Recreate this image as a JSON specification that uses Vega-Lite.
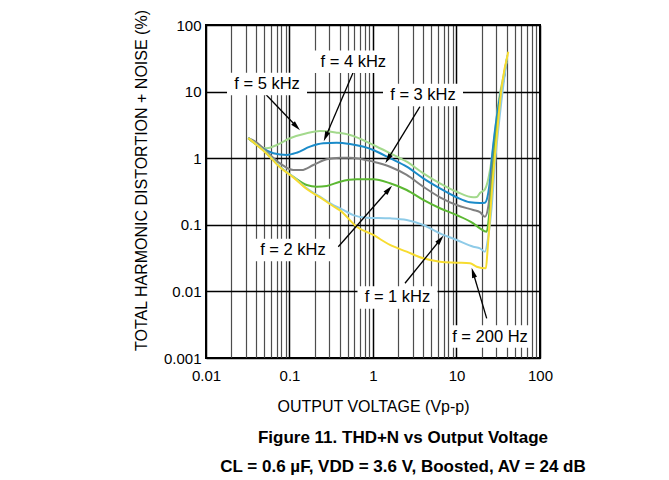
{
  "$schema": "https://vega.github.io/schema/vega-lite/v6.json",
  "width": 334,
  "height": 333,
  "autosize": {"type": "none"},
  "padding": {"left": 206, "top": 25, "right": 129, "bottom": 122},
  "background": "white",
  "config": {
    "font": "Liberation Sans",
    "view": {"stroke": "black", "strokeWidth": 2}
  },
  "title": {
    "text": "Figure 11. THD+N vs Output Voltage",
    "subtitle": "CL = 0.6 µF, VDD = 3.6 V, Boosted, AV = 24 dB",
    "orient": "bottom",
    "anchor": "middle",
    "frame": "group",
    "dx": 30,
    "offset": 16,
    "fontSize": 17,
    "fontWeight": "bold",
    "color": "black",
    "subtitleFontSize": 17,
    "subtitleFontWeight": "bold",
    "subtitleColor": "black",
    "subtitlePadding": 12
  },
  "datasets": {
    "curves": [
      {"f": "5 kHz", "v": 0.0321, "thd": 2.0},
      {"f": "5 kHz", "v": 0.0443, "thd": 1.49},
      {"f": "5 kHz", "v": 0.0533, "thd": 1.41},
      {"f": "5 kHz", "v": 0.0703, "thd": 1.58},
      {"f": "5 kHz", "v": 0.1014, "thd": 1.99},
      {"f": "5 kHz", "v": 0.1607, "thd": 2.37},
      {"f": "5 kHz", "v": 0.232, "thd": 2.56},
      {"f": "5 kHz", "v": 0.367, "thd": 2.42},
      {"f": "5 kHz", "v": 0.53, "thd": 2.23},
      {"f": "5 kHz", "v": 1.008, "thd": 1.58},
      {"f": "5 kHz", "v": 1.598, "thd": 1.19},
      {"f": "5 kHz", "v": 2.533, "thd": 0.886},
      {"f": "5 kHz", "v": 4.004, "thd": 0.593},
      {"f": "5 kHz", "v": 6.34, "thd": 0.42},
      {"f": "5 kHz", "v": 10.06, "thd": 0.314},
      {"f": "5 kHz", "v": 15.9, "thd": 0.259},
      {"f": "5 kHz", "v": 17.5, "thd": 0.262},
      {"f": "5 kHz", "v": 19.1, "thd": 0.3},
      {"f": "5 kHz", "v": 21.9, "thd": 0.34},
      {"f": "5 kHz", "v": 25.2, "thd": 0.665},
      {"f": "5 kHz", "v": 27.6, "thd": 1.49},
      {"f": "5 kHz", "v": 31.7, "thd": 6.67},
      {"f": "5 kHz", "v": 36.4, "thd": 16.7},
      {"f": "5 kHz", "v": 39.9, "thd": 28.1},

      {"f": "4 kHz", "v": 0.0321, "thd": 2.0},
      {"f": "4 kHz", "v": 0.0443, "thd": 1.49},
      {"f": "4 kHz", "v": 0.064, "thd": 1.19},
      {"f": "4 kHz", "v": 0.0926, "thd": 1.12},
      {"f": "4 kHz", "v": 0.122, "thd": 1.21},
      {"f": "4 kHz", "v": 0.176, "thd": 1.49},
      {"f": "4 kHz", "v": 0.254, "thd": 1.675},
      {"f": "4 kHz", "v": 0.367, "thd": 1.71},
      {"f": "4 kHz", "v": 0.53, "thd": 1.63},
      {"f": "4 kHz", "v": 1.008, "thd": 1.33},
      {"f": "4 kHz", "v": 1.598, "thd": 1.0},
      {"f": "4 kHz", "v": 2.533, "thd": 0.745},
      {"f": "4 kHz", "v": 4.004, "thd": 0.499},
      {"f": "4 kHz", "v": 6.34, "thd": 0.353},
      {"f": "4 kHz", "v": 10.06, "thd": 0.259},
      {"f": "4 kHz", "v": 14.5, "thd": 0.218},
      {"f": "4 kHz", "v": 19.1, "thd": 0.212},
      {"f": "4 kHz", "v": 21.9, "thd": 0.215},
      {"f": "4 kHz", "v": 24.0, "thd": 0.3},
      {"f": "4 kHz", "v": 25.2, "thd": 0.471},
      {"f": "4 kHz", "v": 26.4, "thd": 0.94},
      {"f": "4 kHz", "v": 28.9, "thd": 2.65},
      {"f": "4 kHz", "v": 33.2, "thd": 8.38},
      {"f": "4 kHz", "v": 38.1, "thd": 18.8},

      {"f": "3 kHz", "v": 0.0321, "thd": 2.0},
      {"f": "3 kHz", "v": 0.0405, "thd": 1.72},
      {"f": "3 kHz", "v": 0.0533, "thd": 1.25},
      {"f": "3 kHz", "v": 0.0769, "thd": 0.838},
      {"f": "3 kHz", "v": 0.111, "thd": 0.665},
      {"f": "3 kHz", "v": 0.14, "thd": 0.665},
      {"f": "3 kHz", "v": 0.193, "thd": 0.79},
      {"f": "3 kHz", "v": 0.279, "thd": 0.963},
      {"f": "3 kHz", "v": 0.403, "thd": 1.02},
      {"f": "3 kHz", "v": 0.53, "thd": 1.02},
      {"f": "3 kHz", "v": 1.008, "thd": 0.886},
      {"f": "3 kHz", "v": 1.598, "thd": 0.745},
      {"f": "3 kHz", "v": 2.533, "thd": 0.56},
      {"f": "3 kHz", "v": 4.004, "thd": 0.373},
      {"f": "3 kHz", "v": 6.34, "thd": 0.259},
      {"f": "3 kHz", "v": 10.06, "thd": 0.198},
      {"f": "3 kHz", "v": 15.9, "thd": 0.167},
      {"f": "3 kHz", "v": 19.1, "thd": 0.155},
      {"f": "3 kHz", "v": 21.9, "thd": 0.132},
      {"f": "3 kHz", "v": 24.0, "thd": 0.187},
      {"f": "3 kHz", "v": 26.4, "thd": 0.593},
      {"f": "3 kHz", "v": 28.9, "thd": 1.675},
      {"f": "3 kHz", "v": 33.2, "thd": 6.67},
      {"f": "3 kHz", "v": 38.8, "thd": 23.7},

      {"f": "2 kHz", "v": 0.0321, "thd": 2.0},
      {"f": "2 kHz", "v": 0.0533, "thd": 1.19},
      {"f": "2 kHz", "v": 0.0769, "thd": 0.745},
      {"f": "2 kHz", "v": 0.111, "thd": 0.527},
      {"f": "2 kHz", "v": 0.1607, "thd": 0.396},
      {"f": "2 kHz", "v": 0.212, "thd": 0.373},
      {"f": "2 kHz", "v": 0.279, "thd": 0.383},
      {"f": "2 kHz", "v": 0.403, "thd": 0.444},
      {"f": "2 kHz", "v": 0.638, "thd": 0.482},
      {"f": "2 kHz", "v": 1.008, "thd": 0.482},
      {"f": "2 kHz", "v": 1.598, "thd": 0.42},
      {"f": "2 kHz", "v": 2.533, "thd": 0.333},
      {"f": "2 kHz", "v": 4.004, "thd": 0.236},
      {"f": "2 kHz", "v": 6.34, "thd": 0.177},
      {"f": "2 kHz", "v": 10.06, "thd": 0.14},
      {"f": "2 kHz", "v": 15.9, "thd": 0.105},
      {"f": "2 kHz", "v": 19.1, "thd": 0.0886},
      {"f": "2 kHz", "v": 23.0, "thd": 0.0788},
      {"f": "2 kHz", "v": 24.7, "thd": 0.149},
      {"f": "2 kHz", "v": 26.4, "thd": 0.373},
      {"f": "2 kHz", "v": 28.9, "thd": 1.49},
      {"f": "2 kHz", "v": 33.2, "thd": 6.67},
      {"f": "2 kHz", "v": 39.9, "thd": 30.5},

      {"f": "1 kHz", "v": 0.0321, "thd": 2.0},
      {"f": "1 kHz", "v": 0.0533, "thd": 1.19},
      {"f": "1 kHz", "v": 0.0769, "thd": 0.745},
      {"f": "1 kHz", "v": 0.111, "thd": 0.527},
      {"f": "1 kHz", "v": 0.1607, "thd": 0.353},
      {"f": "1 kHz", "v": 0.232, "thd": 0.264},
      {"f": "1 kHz", "v": 0.3346, "thd": 0.198},
      {"f": "1 kHz", "v": 0.403, "thd": 0.177},
      {"f": "1 kHz", "v": 0.484, "thd": 0.157},
      {"f": "1 kHz", "v": 0.581, "thd": 0.14},
      {"f": "1 kHz", "v": 0.841, "thd": 0.128},
      {"f": "1 kHz", "v": 1.598, "thd": 0.125},
      {"f": "1 kHz", "v": 2.533, "thd": 0.118},
      {"f": "1 kHz", "v": 4.004, "thd": 0.0993},
      {"f": "1 kHz", "v": 6.34, "thd": 0.0745},
      {"f": "1 kHz", "v": 10.06, "thd": 0.0591},
      {"f": "1 kHz", "v": 15.9, "thd": 0.0469},
      {"f": "1 kHz", "v": 19.1, "thd": 0.0444},
      {"f": "1 kHz", "v": 21.9, "thd": 0.0395},
      {"f": "1 kHz", "v": 24.0, "thd": 0.0663},
      {"f": "1 kHz", "v": 26.4, "thd": 0.187},
      {"f": "1 kHz", "v": 28.9, "thd": 0.838},
      {"f": "1 kHz", "v": 33.2, "thd": 4.72},
      {"f": "1 kHz", "v": 40.6, "thd": 35.4},

      {"f": "200 Hz", "v": 0.0321, "thd": 2.0},
      {"f": "200 Hz", "v": 0.0533, "thd": 1.17},
      {"f": "200 Hz", "v": 0.0769, "thd": 0.73},
      {"f": "200 Hz", "v": 0.111, "thd": 0.515},
      {"f": "200 Hz", "v": 0.1607, "thd": 0.345},
      {"f": "200 Hz", "v": 0.232, "thd": 0.258},
      {"f": "200 Hz", "v": 0.3346, "thd": 0.19},
      {"f": "200 Hz", "v": 0.403, "thd": 0.165},
      {"f": "200 Hz", "v": 0.638, "thd": 0.0937},
      {"f": "200 Hz", "v": 1.008, "thd": 0.0703},
      {"f": "200 Hz", "v": 1.598, "thd": 0.0498},
      {"f": "200 Hz", "v": 2.533, "thd": 0.0395},
      {"f": "200 Hz", "v": 4.004, "thd": 0.0314},
      {"f": "200 Hz", "v": 6.34, "thd": 0.0279},
      {"f": "200 Hz", "v": 10.06, "thd": 0.027},
      {"f": "200 Hz", "v": 14.5, "thd": 0.0264},
      {"f": "200 Hz", "v": 17.46, "thd": 0.0235},
      {"f": "200 Hz", "v": 22.5, "thd": 0.0222},
      {"f": "200 Hz", "v": 23.4, "thd": 0.0373},
      {"f": "200 Hz", "v": 24.7, "thd": 0.0937},
      {"f": "200 Hz", "v": 26.4, "thd": 0.297},
      {"f": "200 Hz", "v": 30.3, "thd": 2.1},
      {"f": "200 Hz", "v": 34.8, "thd": 11.85},
      {"f": "200 Hz", "v": 41.7, "thd": 39.7}
    ],
    "arrows": [
      {"label": "f = 5 kHz", "tx": 0.0485, "ty": 9.97, "hx": 0.1197, "hy": 3.04, "angle": 136},
      {"label": "f = 4 kHz", "tx": 0.608, "ty": 22.4, "hx": 0.2735, "hy": 2.154, "angle": 203},
      {"label": "f = 3 kHz", "tx": 3.65, "ty": 5.93, "hx": 1.525, "hy": 0.996, "angle": 212},
      {"label": "f = 2 kHz", "tx": 0.384, "ty": 0.0469, "hx": 1.525, "hy": 0.333, "angle": 41},
      {"label": "f = 1 kHz", "tx": 2.416, "ty": 0.01324, "hx": 6.34, "hy": 0.0591, "angle": 39},
      {"label": "f = 200 Hz", "tx": 23.0, "ty": 0.00394, "hx": 15.9, "hy": 0.0187, "angle": 343}
    ],
    "labels": [
      {"label": "f = 5 kHz", "lx": 0.0538, "ly": 13.0},
      {"label": "f = 4 kHz", "lx": 0.581, "ly": 28.1},
      {"label": "f = 3 kHz", "lx": 3.97, "ly": 8.89},
      {"label": "f = 2 kHz", "lx": 0.11, "ly": 0.0419},
      {"label": "f = 1 kHz", "lx": 1.965, "ly": 0.0081},
      {"label": "f = 200 Hz", "lx": 25.2, "ly": 0.0021}
    ]
  },
  "layer": [
    {
      "data": {"name": "curves"},
      "mark": {"type": "line", "interpolate": "monotone", "strokeWidth": 2, "clip": true},
      "encoding": {
        "x": {
          "field": "v",
          "type": "quantitative",
          "title": "OUTPUT VOLTAGE (Vp-p)",
          "scale": {"type": "log", "domain": [0.01, 100], "nice": false},
          "axis": {
            "values": [0.01, 0.02, 0.03, 0.04, 0.05, 0.06, 0.07, 0.08, 0.09, 0.1, 0.2, 0.3, 0.4, 0.5, 0.6, 0.7, 0.8, 0.9, 1, 2, 3, 4, 5, 6, 7, 8, 9, 10, 20, 30, 40, 50, 60, 70, 80, 90, 100],
            "format": "~g",
            "labelExpr": "abs(log(datum.value)/LN10 - round(log(datum.value)/LN10)) < 0.001 ? datum.label : ''",
            "labelOverlap": false,
            "labelFlush": false,
            "labelFontSize": 15,
            "labelColor": "black",
            "labelPadding": 10,
            "ticks": false,
            "domain": false,
            "grid": true,
            "gridColor": {"condition": {"test": "abs(log(datum.value)/LN10 - round(log(datum.value)/LN10)) < 0.001", "value": "#000000"}, "value": "#4d4d4d"},
            "gridWidth": {"condition": {"test": "abs(log(datum.value)/LN10 - round(log(datum.value)/LN10)) < 0.001", "value": 1.5}, "value": 1.2},
            "titleFontSize": 16,
            "titleFontWeight": "normal",
            "titleColor": "black",
            "titlePadding": 15
          }
        },
        "y": {
          "field": "thd",
          "type": "quantitative",
          "title": "TOTAL HARMONIC DISTORTION + NOISE (%)",
          "scale": {"type": "log", "domain": [0.001, 100], "nice": false},
          "axis": {
            "values": [0.001, 0.01, 0.1, 1, 10, 100],
            "format": "~g",
            "labelFontSize": 15,
            "labelColor": "black",
            "labelPadding": 5,
            "ticks": false,
            "domain": false,
            "grid": true,
            "gridColor": "#000000",
            "gridWidth": 1.5,
            "titleFontSize": 16,
            "titleFontWeight": "normal",
            "titleColor": "black",
            "titlePadding": 14,
            "titleY": 155
          }
        },
        "color": {
          "field": "f",
          "type": "nominal",
          "scale": {
            "domain": ["5 kHz", "4 kHz", "3 kHz", "2 kHz", "1 kHz", "200 Hz"],
            "range": ["#a3d98c", "#1a8bc9", "#808080", "#5cb832", "#8ecbe8", "#f7dc30"]
          },
          "legend": null
        }
      }
    },
    {
      "data": {"name": "arrows"},
      "mark": {"type": "rule", "color": "black", "strokeWidth": 1.3},
      "encoding": {
        "x": {"field": "tx", "type": "quantitative", "title": "OUTPUT VOLTAGE (Vp-p)", "scale": {"type": "log"}},
        "y": {"field": "ty", "type": "quantitative", "title": "TOTAL HARMONIC DISTORTION + NOISE (%)", "scale": {"type": "log"}},
        "x2": {"field": "hx"},
        "y2": {"field": "hy"}
      }
    },
    {
      "data": {"name": "arrows"},
      "mark": {"type": "point", "shape": "M0,-1L0.45,0.75L-0.45,0.75Z", "filled": true, "color": "black", "opacity": 1, "size": 130},
      "encoding": {
        "x": {"field": "hx", "type": "quantitative", "title": "OUTPUT VOLTAGE (Vp-p)", "scale": {"type": "log"}},
        "y": {"field": "hy", "type": "quantitative", "title": "TOTAL HARMONIC DISTORTION + NOISE (%)", "scale": {"type": "log"}},
        "angle": {"field": "angle", "type": "quantitative", "scale": null}
      }
    },
    {
      "data": {"name": "labels"},
      "mark": {"type": "point", "shape": "M-1,-0.28H1V0.28H-1Z", "filled": true, "color": "white", "opacity": 1, "size": 6400},
      "encoding": {
        "x": {"field": "lx", "type": "quantitative", "title": "OUTPUT VOLTAGE (Vp-p)", "scale": {"type": "log"}},
        "y": {"field": "ly", "type": "quantitative", "title": "TOTAL HARMONIC DISTORTION + NOISE (%)", "scale": {"type": "log"}}
      }
    },
    {
      "data": {"name": "labels"},
      "mark": {"type": "text", "fontSize": 16.5, "color": "black", "align": "center", "baseline": "middle"},
      "encoding": {
        "x": {"field": "lx", "type": "quantitative", "title": "OUTPUT VOLTAGE (Vp-p)", "scale": {"type": "log"}},
        "y": {"field": "ly", "type": "quantitative", "title": "TOTAL HARMONIC DISTORTION + NOISE (%)", "scale": {"type": "log"}},
        "text": {"field": "label"}
      }
    }
  ]
}
